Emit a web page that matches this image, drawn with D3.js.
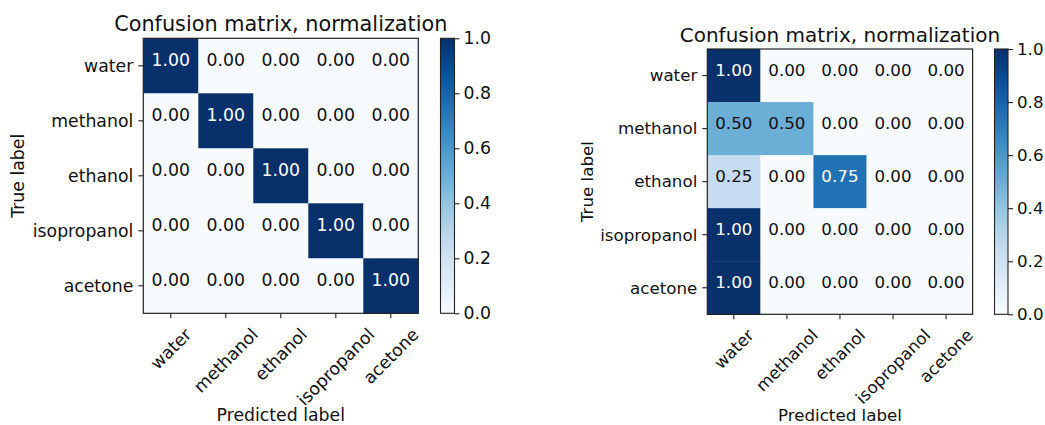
<!DOCTYPE html>
<html>
  <head>
    <meta charset="utf-8">
    <title>Confusion matrix, normalization</title>
    <style>
      html, body { margin: 0; padding: 0; background: #fff; }
      svg { display: block; }
      text { font-family: "DejaVu Sans", sans-serif; fill: #111; }
    </style>
  </head>
  <body>
    <div id="figure"></div>
    <script src="https://cdn.jsdelivr.net/npm/d3@7"></script>
    <script>
    // data
    var classes = ['water', 'methanol', 'ethanol', 'isopropanol', 'acetone'];
    var matrixLeft = [
        [1.00, 0.00, 0.00, 0.00, 0.00],
        [0.00, 1.00, 0.00, 0.00, 0.00],
        [0.00, 0.00, 1.00, 0.00, 0.00],
        [0.00, 0.00, 0.00, 1.00, 0.00],
        [0.00, 0.00, 0.00, 0.00, 1.00]
    ];
    var matrixRight = [
        [1.00, 0.00, 0.00, 0.00, 0.00],
        [0.50, 0.50, 0.00, 0.00, 0.00],
        [0.25, 0.00, 0.75, 0.00, 0.00],
        [1.00, 0.00, 0.00, 0.00, 0.00],
        [1.00, 0.00, 0.00, 0.00, 0.00]
    ];
    var colorbarTicks = [0.0, 0.2, 0.4, 0.6, 0.8, 1.0];
    var titleText = 'Confusion matrix, normalization';
    var xLabelText = 'Predicted label';
    var yLabelText = 'True label';

    // matplotlib "Blues"
    var bluesStops = ['#f7fbff', '#deebf7', '#c6dbef', '#9ecae1', '#6baed6',
                      '#4292c6', '#2171b5', '#08519c', '#08306b'];
    var color = d3.scaleLinear()
        .domain(d3.range(bluesStops.length).map(function(i){ return i / (bluesStops.length - 1); }))
        .range(bluesStops)
        .interpolate(d3.interpolateRgb)
        .clamp(true);

    var W = 1045, H = 425;
    var TICK = 5, PAD = 6;

    var svg = d3.select('#figure').append('svg')
        .attr('width', W)
        .attr('height', H);

    var defs = svg.append('defs');
    var grad = defs.append('linearGradient')
        .attr('id', 'cbgrad')
        .attr('x1', 0).attr('y1', 1).attr('x2', 0).attr('y2', 0);
    d3.range(0, 1.0001, 0.05).forEach(function(t){
        grad.append('stop').attr('offset', t).attr('stop-color', color(t));
    });

    var drawPanel = function(matrix, o){
        var g = svg.append('g');
        var x = d3.scaleBand().domain(d3.range(classes.length)).range([o.x0, o.x0 + o.size]);
        var y = d3.scaleBand().domain(d3.range(classes.length)).range([o.y0, o.y0 + o.size]);

        var cells = [];
        matrix.forEach(function(row, i){
            row.forEach(function(v, j){ cells.push({i: i, j: j, v: v}); });
        });
        var thresh = d3.max(cells, function(d){ return d.v; }) / 2;

        g.selectAll('rect.cell')
            .data(cells)
            .enter()
            .append('rect')
            .attr('class', 'cell')
            .attr('x', function(d){ return x(d.j); })
            .attr('y', function(d){ return y(d.i); })
            .attr('width', x.bandwidth() + 0.5)
            .attr('height', y.bandwidth() + 0.5)
            .attr('fill', function(d){ return color(d.v); });

        // plt.text default va is baseline -> baseline sits on the cell centre
        g.selectAll('text.val')
            .data(cells)
            .enter()
            .append('text')
            .attr('class', 'val')
            .attr('x', function(d){ return x(d.j) + x.bandwidth() / 2; })
            .attr('y', function(d){ return y(d.i) + y.bandwidth() / 2 + 0.5; })
            .attr('text-anchor', 'middle')
            .style('font-size', o.fs + 'px')
            .style('fill', function(d){ return d.v > thresh ? '#fff' : '#111'; })
            .text(function(d){ return d.v.toFixed(2); });

        // frame
        g.append('rect')
            .attr('x', o.x0).attr('y', o.y0)
            .attr('width', o.size).attr('height', o.size)
            .attr('fill', 'none')
            .attr('stroke', '#222')
            .attr('stroke-width', 1.2);

        // y ticks
        classes.forEach(function(c, i){
            var cy = y(i) + y.bandwidth() / 2;
            g.append('line')
                .attr('x1', o.x0 - TICK).attr('x2', o.x0)
                .attr('y1', cy).attr('y2', cy)
                .attr('stroke', '#222').attr('stroke-width', 1.1);
            g.append('text')
                .attr('x', o.x0 - TICK - PAD + 1)
                .attr('y', cy)
                .attr('dy', '0.35em')
                .attr('text-anchor', 'end')
                .style('font-size', o.fs + 'px')
                .text(c);
        });

        // x ticks, rotated 45 like plt.xticks(rotation=45)
        var bottom = o.y0 + o.size;
        classes.forEach(function(c, j){
            var cx = x(j) + x.bandwidth() / 2;
            g.append('line')
                .attr('x1', cx).attr('x2', cx)
                .attr('y1', bottom).attr('y2', bottom + TICK)
                .attr('stroke', '#222').attr('stroke-width', 1.1);
            var t = g.append('text')
                .attr('text-anchor', 'middle')
                .attr('dy', '0.35em')
                .style('font-size', o.fs + 'px')
                .text(c);
            var w = t.node().getComputedTextLength();
            var h = o.fs * 1.164;
            var cy = bottom + TICK + PAD + (w + h) * Math.SQRT1_2 / 2;
            t.attr('transform', 'translate(' + cx + ',' + cy + ') rotate(-45)');
        });

        // title and axis labels
        g.append('text')
            .attr('x', o.x0 + o.size / 2)
            .attr('y', o.titleY)
            .attr('text-anchor', 'middle')
            .style('font-size', o.titleFs + 'px')
            .text(titleText);
        g.append('text')
            .attr('x', o.x0 + o.size / 2)
            .attr('y', o.xlabelY)
            .attr('text-anchor', 'middle')
            .style('font-size', o.fs + 'px')
            .text(xLabelText);
        g.append('text')
            .attr('transform', 'translate(' + o.ylabelX + ',' + (o.y0 + o.size / 2) + ') rotate(-90)')
            .attr('dy', '0.35em')
            .attr('text-anchor', 'middle')
            .style('font-size', o.fs + 'px')
            .text(yLabelText);

        // colorbar
        var cbScale = d3.scaleLinear().domain([0, 1]).range([o.y0 + o.size, o.y0]);
        g.append('rect')
            .attr('x', o.cbX).attr('y', o.y0)
            .attr('width', o.cbW).attr('height', o.size)
            .attr('fill', 'url(#cbgrad)')
            .attr('stroke', '#222')
            .attr('stroke-width', 1.1);
        var cbAxis = d3.axisRight(cbScale)
            .tickValues(colorbarTicks)
            .tickSize(TICK)
            .tickPadding(4)
            .tickFormat(d3.format('.1f'));
        var ax = g.append('g')
            .attr('transform', 'translate(' + (o.cbX + o.cbW) + ',0)')
            .call(cbAxis);
        ax.select('.domain').remove();
        ax.selectAll('line').attr('stroke', '#222').attr('stroke-width', 1.1);
        ax.selectAll('text')
            .style('font-size', o.fs + 'px')
            .style('font-family', '"DejaVu Sans", sans-serif')
            .attr('fill', '#111');
    };

    drawPanel(matrixLeft, {
        x0: 143.3, y0: 38.3, size: 275,
        cbX: 440.5, cbW: 14,
        fs: 17.3, titleFs: 20.8, titleY: 30.5,
        ylabelX: 18.3, xlabelY: 420.5
    });
    drawPanel(matrixRight, {
        x0: 707.3, y0: 49, size: 265.3,
        cbX: 994.5, cbW: 13.5,
        fs: 16.7, titleFs: 20, titleY: 41.7,
        ylabelX: 586.7, xlabelY: 420.5
    });
    </script>
  </body>
</html>
